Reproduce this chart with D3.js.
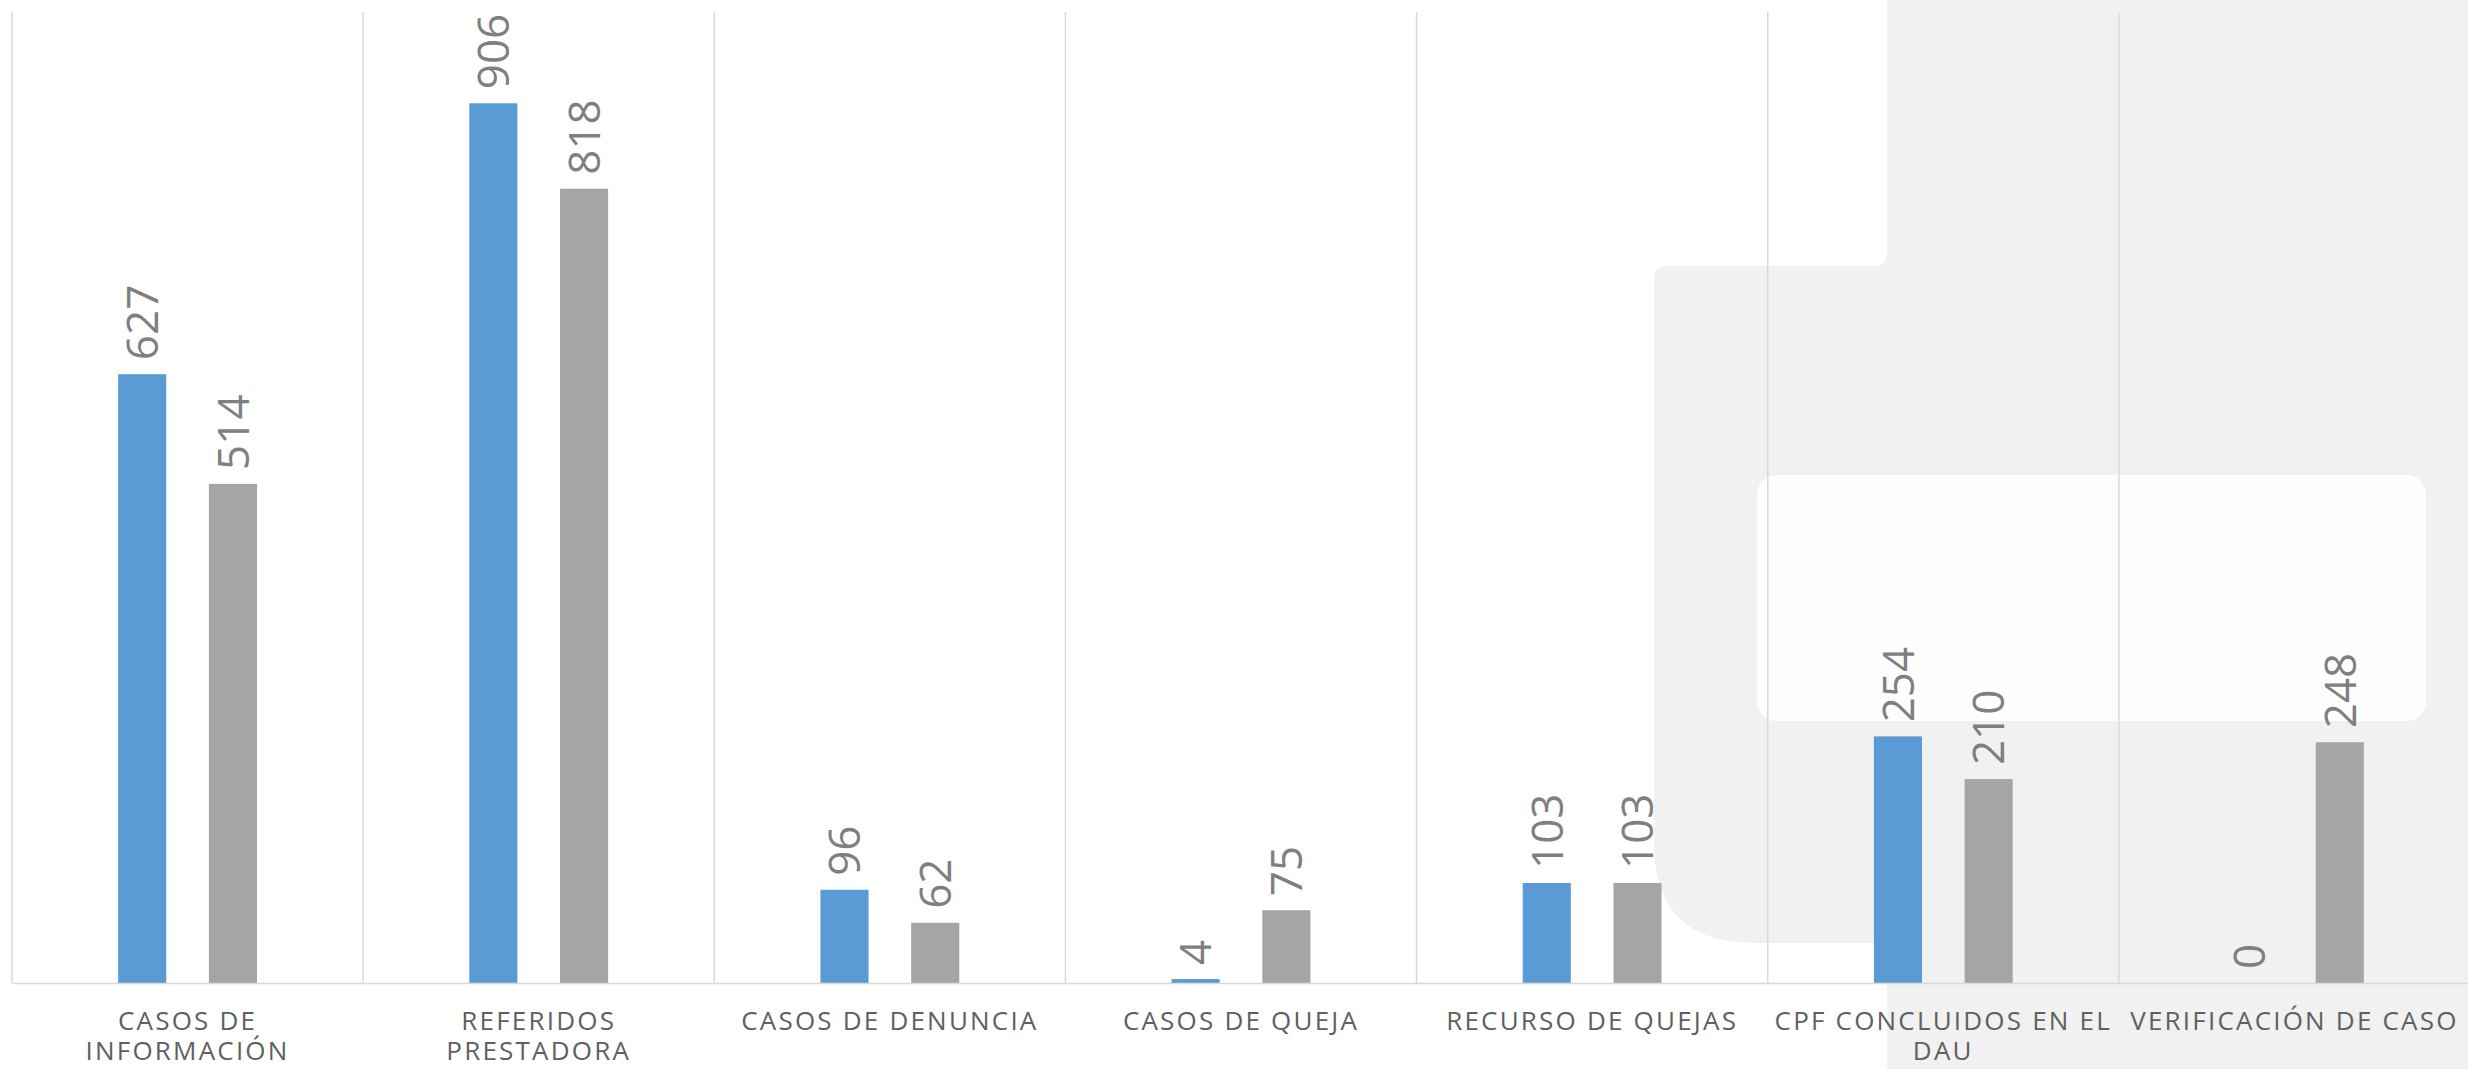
<!DOCTYPE html>
<meta charset="utf-8">
<head>
  <meta charset="utf-8">
  <title>casos por tipo</title>
  <script src="https://d3js.org/d3.v7.min.js"></script>
</head>

<style>
body {margin:0; background:#ffffff;}
.grid line {
  stroke: #d9d9d9;
  stroke-width: 1.5px;
}
.axis path {
  stroke: #d9d9d9;
  stroke-width: 1.5px;
}
.val {
  font-family: "Open Sans";
  font-size: 44px;
  fill: #7f7f7f;
}
.axis text {
  font-family: "Open Sans";
  font-size: 26px;
  fill: #606060;
  letter-spacing: 2.2px;
}
.bg {fill: #f0f1f0;}
</style>

<body>
<script>

// data
var categories = ["CASOS DE\nINFORMACIÓN", "REFERIDOS\nPRESTADORA", "CASOS DE DENUNCIA",
                  "CASOS DE QUEJA", "RECURSO DE QUEJAS", "CPF CONCLUIDOS EN EL\nDAU",
                  "VERIFICACIÓN DE CASO"];
var serie1 = [627, 906, 96, 4, 103, 254, 0];
var serie2 = [514, 818, 62, 75, 103, 210, 248];
var seriesKeys = ["serie1", "serie2"];
var colors = ["#5b9bd5", "#a5a5a5"];

var W = 2468, H = 1069;
var margin = {top: 12, right: -2, bottom: 86, left: 12},
    width = W - margin.left - margin.right,
    height = H - margin.top - margin.bottom;

var root = d3.select("body").append("svg")
    .attr("width", W)
    .attr("height", H);

// background decoration (slide shapes behind the chart)
var bg = root.append("g");
bg.append("rect").attr("class", "bg")
    .attr("x", 1887).attr("y", 0).attr("width", W - 1887).attr("height", H);
bg.append("path").attr("class", "bg")
    .attr("d", "M1654,278 Q1654,266 1666,266 L" + W + ",266 L" + W + ",943 L1754,943 Q1654,943 1654,843 Z");
bg.append("rect").attr("class", "bg")
    .attr("x", 1870).attr("y", 250).attr("width", 20).attr("height", 20);
bg.append("rect")
    .attr("x", -20).attr("y", -20).attr("width", 1907).attr("height", 286)
    .attr("rx", 12).attr("fill", "#ffffff");
bg.append("rect")
    .attr("x", 1757).attr("y", 475).attr("width", 669).attr("height", 246)
    .attr("rx", 20).attr("fill", "#fefefe");

var svg = root.append("g")
    .attr("transform", "translate(" + margin.left + "," + margin.top + ")");

// scales
var x0 = d3.scaleBand()
    .domain(categories)
    .range([0, width]);

var x1 = d3.scaleBand()
    .domain(seriesKeys)
    .range([0, x0.bandwidth()])
    .paddingInner(0.47)
    .paddingOuter(1.17);

var y = d3.scaleLinear()
    .domain([0, 1000])
    .range([height, 0]);

// vertical separators between categories
svg.append("g")
    .attr("class", "grid")
  .selectAll("line")
    .data(categories)
  .enter().append("line")
    .attr("x1", function(d) { return x0(d); })
    .attr("x2", function(d) { return x0(d); })
    .attr("y1", 0)
    .attr("y2", height);

// bars
var rows = categories.map(function(c, i) {
  return {cat: c, serie1: serie1[i], serie2: serie2[i]};
});

var group = svg.selectAll(".cat")
    .data(rows)
  .enter().append("g")
    .attr("class", "cat")
    .attr("transform", function(d) { return "translate(" + x0(d.cat) + ",0)"; });

var cells = group.selectAll(".cell")
    .data(function(d) {
      return seriesKeys.map(function(k, j) { return {key: k, value: d[k], color: colors[j]}; });
    })
  .enter().append("g").attr("class", "cell");

cells.append("rect")
    .attr("x", function(d) { return x1(d.key); })
    .attr("y", function(d) { return y(d.value); })
    .attr("width", x1.bandwidth())
    .attr("height", function(d) { return height - y(d.value); })
    .attr("fill", function(d) { return d.color; });

// value labels, rotated
cells.append("text")
    .attr("class", "val")
    .attr("transform", function(d) {
      return "translate(" + (x1(d.key) + x1.bandwidth() / 2) + "," + (y(d.value) - 14) + ") rotate(-90)";
    })
    .attr("dy", "0.36em")
    .attr("text-anchor", "start")
    .text(function(d) { return d.value; });

// category axis
var axis = svg.append("g")
    .attr("class", "axis")
    .attr("transform", "translate(0," + height + ")")
    .call(d3.axisBottom(x0).tickSize(0).tickPadding(0));

axis.selectAll(".tick text")
    .attr("y", 0)
    .attr("dy", null)
    .each(function(d) {
      var t = d3.select(this);
      var lines = d.split("\n");
      t.text(null);
      lines.forEach(function(l, i) {
        t.append("tspan")
          .attr("x", 0)
          .attr("y", 47 + i * 30)
          .text(l);
      });
    });

</script>
</body>
